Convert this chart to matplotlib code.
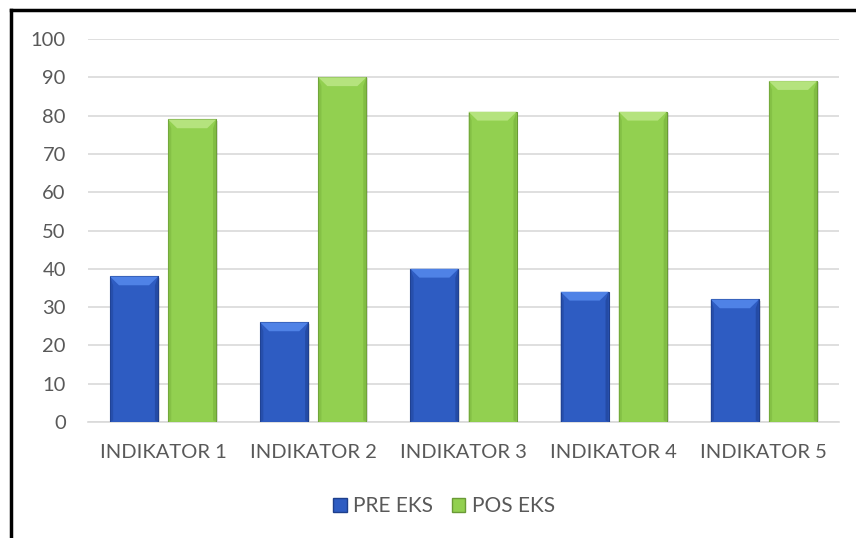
import numpy as np
import matplotlib.pyplot as plt
from matplotlib.patches import Polygon
from matplotlib.lines import Line2D

categories = ["INDIKATOR 1", "INDIKATOR 2", "INDIKATOR 3", "INDIKATOR 4", "INDIKATOR 5"]
pre_eks = [38, 26, 40, 34, 32]
pos_eks = [79, 90, 81, 81, 89]
series_names = ["PRE EKS", "POS EKS"]

plt.rcParams['font.family'] = ['Lato', 'DejaVu Sans']
text_color = '#595959'

fig = plt.figure(figsize=(8.56, 5.38), dpi=100)
ax = fig.add_axes([88 / 856, 1 - 422 / 538, (839 - 88) / 856, (422 - 39) / 538])

x = np.arange(len(categories))
width = 0.32
gap = 0.067

styles = [
    dict(face='#2E5CC2', edge='#1E3F8C', light='#4F82E6', dark='#22479E'),
    dict(face='#92D050', edge='#6A9A36', light='#B5E37E', dark='#7DB840'),
]


def bevel_bar(ax, xc, h, w, st):
    # main body
    ax.bar(xc, h, w, color=st['face'], edgecolor=st['edge'], linewidth=0.8, zorder=3)
    # soft drop shadow on the right
    ax.bar(xc + 0.012, h, w, bottom=-0.3, color='#000000', alpha=0.12, linewidth=0, zorder=2)
    b = 0.06   # bevel size in x units
    bh = 2.3   # bevel size in y units
    x0, x1 = xc - w / 2, xc + w / 2
    top = Polygon([[x0, h], [x1, h], [x1 - b, h - bh], [x0 + b, h - bh]],
                  closed=True, facecolor=st['light'], edgecolor='none', zorder=4)
    left = Polygon([[x0, h], [x0 + b * 0.35, h - bh], [x0 + b * 0.35, 0.4], [x0, 0]],
                   closed=True, facecolor=st['dark'], edgecolor='none', alpha=0.6, zorder=4)
    right = Polygon([[x1, h], [x1 - b * 0.35, h - bh], [x1 - b * 0.35, 0.4], [x1, 0]],
                    closed=True, facecolor=st['dark'], edgecolor='none', alpha=0.8, zorder=4)
    ax.add_patch(top)
    ax.add_patch(left)
    ax.add_patch(right)


for i in range(len(categories)):
    bevel_bar(ax, x[i] - (width + gap) / 2, pre_eks[i], width, styles[0])
    bevel_bar(ax, x[i] + (width + gap) / 2, pos_eks[i], width, styles[1])

ax.set_xlim(-0.5, len(categories) - 0.5)
ax.set_ylim(0, 100)
ax.set_yticks(range(0, 101, 10))
ax.set_xticks(x)
ax.set_xticklabels(categories)
ax.tick_params(axis='both', length=0, labelsize=14.5, colors=text_color)
ax.tick_params(axis='x', pad=16)
ax.tick_params(axis='y', pad=16)
ax.yaxis.grid(True, color='#D9D9D9', linewidth=1.2, zorder=0)
ax.set_axisbelow(True)
for side in ['top', 'right', 'left']:
    ax.spines[side].set_visible(False)
ax.spines['bottom'].set_color('#D9D9D9')
ax.spines['bottom'].set_linewidth(1.2)

handles = [
    Polygon([[0, 0]], facecolor=styles[0]['face'], edgecolor=styles[0]['edge']),
    Polygon([[0, 0]], facecolor=styles[1]['face'], edgecolor=styles[1]['edge']),
]
fig.legend(handles, series_names, loc='center', bbox_to_anchor=(444 / 856, 1 - 506 / 538),
           ncol=2, frameon=False, fontsize=15, labelcolor=text_color,
           handlelength=0.65, handleheight=0.65, handletextpad=0.3, columnspacing=0.9)

# outer frame (top and left edges)
fig.add_artist(Line2D([11 / 856, 1.0], [1 - 10 / 538, 1 - 10 / 538], color='black', linewidth=2.5,
                      transform=fig.transFigure))
fig.add_artist(Line2D([11 / 856, 11 / 856], [0, 1 - 10 / 538], color='black', linewidth=2.5,
                      transform=fig.transFigure))

fig.savefig('out.png', dpi=100)
